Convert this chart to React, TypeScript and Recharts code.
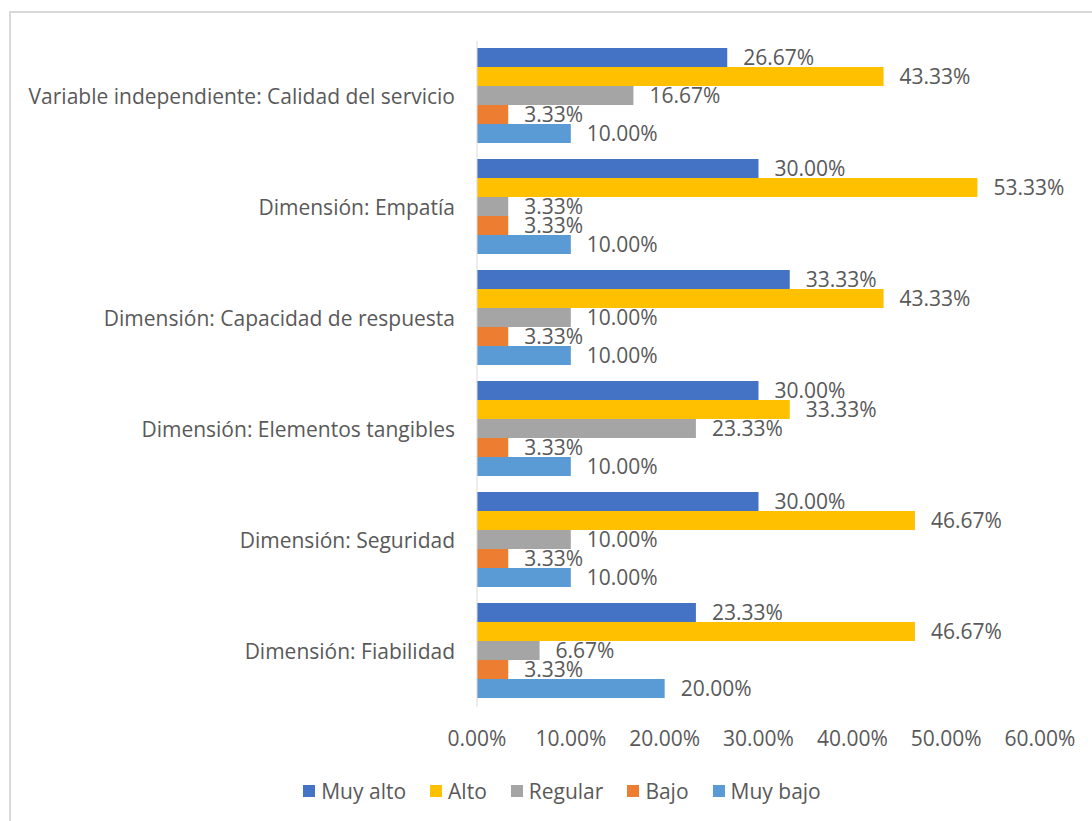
import { Bar, BarChart, LabelList, XAxis, YAxis } from "recharts";

const categories = [
  "Variable independiente: Calidad del servicio",
  "Dimensión: Empatía",
  "Dimensión: Capacidad de respuesta",
  "Dimensión: Elementos tangibles",
  "Dimensión: Seguridad",
  "Dimensión: Fiabilidad",
];

const seriesNames = ["Muy alto", "Alto", "Regular", "Bajo", "Muy bajo"];
const seriesColors = ["#4472C4", "#FFC000", "#A5A5A5", "#ED7D31", "#5B9BD5"];

const muyAlto = [26.67, 30.0, 33.33, 30.0, 30.0, 23.33];
const alto = [43.33, 53.33, 43.33, 33.33, 46.67, 46.67];
const regular = [16.67, 3.33, 10.0, 23.33, 10.0, 6.67];
const bajo = [3.33, 3.33, 3.33, 3.33, 3.33, 3.33];
const muyBajo = [10.0, 10.0, 10.0, 10.0, 10.0, 20.0];

const xTicks = [0, 10, 20, 30, 40, 50, 60];

const seriesValues = [muyAlto, alto, regular, bajo, muyBajo];

const data = categories.map((name, i) => {
  const row: Record<string, string | number> = { name };
  seriesNames.forEach((s, j) => {
    row[s] = seriesValues[j][i];
  });
  return row;
});

const FONT = "'Open Sans', 'Liberation Sans', sans-serif";
const TEXT = "#595959";
const FS = 21;

const pct = (v: number) => `${Number(v).toFixed(2)}%`;

export default function App() {
  return (
    <div
      style={{
        position: "absolute",
        left: 0,
        top: 0,
        width: 1092,
        height: 821,
        background: "#fff",
        overflow: "hidden",
        fontFamily: FONT,
      }}
    >
      <div
        style={{
          position: "absolute",
          left: 9,
          top: 11,
          width: 1200,
          height: 900,
          borderTop: "2px solid #D9D9D9",
          borderLeft: "2px solid #D9D9D9",
        }}
      />
      <div style={{ position: "absolute", left: 0, top: 0 }}>
        <BarChart
          width={1092}
          height={821}
          data={data}
          layout="vertical"
          margin={{ top: 41, right: 52, bottom: 64, left: 0 }}
          barCategoryGap={7}
          barGap={0}
        >
          <XAxis
            type="number"
            domain={[0, 60]}
            ticks={xTicks}
            axisLine={false}
            tickLine={false}
            tickSize={0}
            tickMargin={24}
            height={50}
            tickFormatter={pct}
            tick={{ fill: TEXT, fontSize: FS, fontFamily: FONT }}
            interval={0}
          />
          <YAxis
            type="category"
            dataKey="name"
            width={477}
            axisLine={{ stroke: "#D9D9D9", strokeWidth: 1 }}
            tickLine={false}
            tickSize={0}
            tickMargin={22}
            interval={0}
            tick={{ fill: TEXT, fontSize: FS, fontFamily: FONT }}
          />
          {seriesNames.map((s, j) => (
            <Bar
              key={s}
              dataKey={s}
              fill={seriesColors[j]}
              isAnimationActive={false}
            >
              <LabelList
                dataKey={s}
                position="right"
                offset={16}
                formatter={(v: number) => pct(v)}
                style={{ fill: TEXT, fontSize: FS, fontFamily: FONT }}
              />
            </Bar>
          ))}
        </BarChart>
      </div>
      <div
        style={{
          position: "absolute",
          top: 776,
          left: 0,
          width: 1124,
          display: "flex",
          justifyContent: "center",
          gap: 24,
          color: TEXT,
          fontSize: FS,
          lineHeight: "30px",
        }}
      >
        {seriesNames.map((s, j) => (
          <div key={s} style={{ display: "flex", alignItems: "center" }}>
            <span
              style={{
                width: 12,
                height: 12,
                background: seriesColors[j],
                marginRight: 6,
                display: "inline-block",
              }}
            />
            {s}
          </div>
        ))}
      </div>
    </div>
  );
}
